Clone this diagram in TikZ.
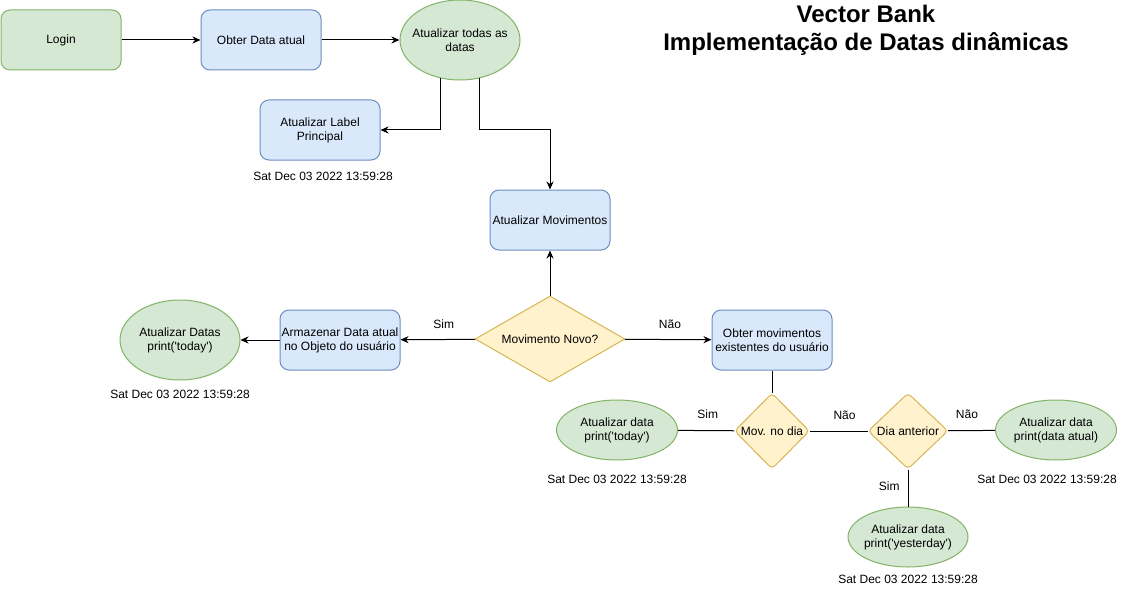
\documentclass[tikz,border=0pt]{standalone}
\usepackage{fontspec}
\setmainfont[Ligatures=TeXOff]{Liberation Sans}
\usetikzlibrary{shapes.geometric,arrows.meta}
\definecolor{gfill}{HTML}{D5E8D4}
\definecolor{gline}{HTML}{82B366}
\definecolor{bfill}{HTML}{DAE8FC}
\definecolor{bline}{HTML}{6C8EBF}
\definecolor{yfill}{HTML}{FFF2CC}
\definecolor{yline}{HTML}{D6B656}
\tikzset{
  base/.style={line width=1pt, align=center, inner sep=0pt},
  greenbox/.style={base, draw=gline, fill=gfill, rounded corners=9pt, minimum width=120pt, minimum height=60pt},
  bluebox/.style={base, draw=bline, fill=bfill, rounded corners=9pt, minimum width=120pt, minimum height=60pt},
  greenell/.style={base, ellipse, draw=gline, fill=gfill, inner xsep=-12pt, inner ysep=0pt},
  decision/.style={base, diamond, draw=yline, fill=yfill},
  arr/.style={line width=1pt, -{Stealth[length=8pt,width=7pt,inset=2.5pt]}},
  plain/.style={line width=1pt},
  datelbl/.style={inner sep=0pt},
  edgelbl/.style={inner sep=0pt}
}
\begin{document}
\begin{tikzpicture}[x=1pt,y=-1pt, font=\fontsize{12}{14}\selectfont]
\useasboundingbox (0,0) rectangle (1129,591);

% title
\node[align=center, font=\bfseries\fontsize{24}{28}\selectfont, inner sep=0pt] (title) at (866,30) {Vector Bank\\Implementação de Datas dinâmicas};

% top row
\node[greenbox] (login) at (61,40) {Login};
\node[bluebox] (obter) at (261,40) {Obter Data atual};
\node[greenell, minimum width=120pt, minimum height=80pt] (todas) at (460,40) {Atualizar todas as\\datas};
\node[bluebox] (label) at (320,130) {Atualizar Label\\Principal};
\node[datelbl] (d1) at (323,176) {Sat Dec 03 2022 13:59:28};
\node[bluebox] (mov) at (550,220) {Atualizar Movimentos};

% middle row
\node[decision, minimum width=150pt, minimum height=86pt] (novo) at (550,339) {\makebox[0pt]{Movimento Novo?}};
\node[bluebox] (arm) at (340,340) {Armazenar Data atual\\no Objeto do usuário};
\node[greenell, minimum width=120pt, minimum height=80pt] (tdy) at (180,340) {Atualizar Datas\\print('today')};
\node[datelbl] (d2) at (180,394) {Sat Dec 03 2022 13:59:28};
\node[bluebox] (exist) at (772,340) {Obter movimentos\\existentes do usuário};

% bottom row
\node[decision, rounded corners=4pt, minimum width=75pt, minimum height=76pt] (movdia) at (772,431) {\makebox[0pt]{Mov. no dia}};
\node[decision, rounded corners=4pt, minimum width=80pt, minimum height=76pt] (diaant) at (908,431) {\makebox[0pt]{Dia anterior}};
\node[greenell, minimum width=121pt, minimum height=60pt] (tdy2) at (617,430) {Atualizar data\\print('today')};
\node[datelbl] (d3) at (617,479) {Sat Dec 03 2022 13:59:28};
\node[greenell, minimum width=121pt, minimum height=60pt] (atual) at (1056,430) {Atualizar data\\print(data atual)};
\node[datelbl] (d4) at (1047,479) {Sat Dec 03 2022 13:59:28};
\node[greenell, minimum width=120pt, minimum height=60pt] (yest) at (908,537) {Atualizar data\\print('yesterday')};
\node[datelbl] (d5) at (908,579) {Sat Dec 03 2022 13:59:28};

% connectors
\draw[arr] (login) -- (obter);
\draw[arr] (obter) -- (todas);
\draw[arr] (todas.243) |- (label.east);
\coordinate (c1) at (550,130);
\draw[arr] (todas.297) |- (c1) -- (mov.north);
\draw[arr] (novo) -- (mov);
\draw[arr] (novo) -- node[edgelbl, above=10pt, pos=0.42] (lsim1) {Sim} (arm);
\draw[arr] (arm) -- (tdy);
\draw[arr] (novo) -- node[edgelbl, above=10pt, pos=0.52] (lnao1) {Não} (exist);
\draw[plain] (exist) -- (movdia);
\draw[plain] (movdia) -- node[edgelbl, above=11pt, pos=0.47] (lsim2) {Sim} (tdy2);
\draw[plain] (movdia) -- node[edgelbl, above=11pt, pos=0.6] (lnao2) {Não} (diaant);
\draw[plain] (diaant) -- node[edgelbl, above=11pt, pos=0.4] (lnao3) {Não} (atual);
\draw[plain] (diaant) -- node[edgelbl, left=8pt, pos=0.45] (lsim3) {Sim} (yest);
\end{tikzpicture}
\end{document}
